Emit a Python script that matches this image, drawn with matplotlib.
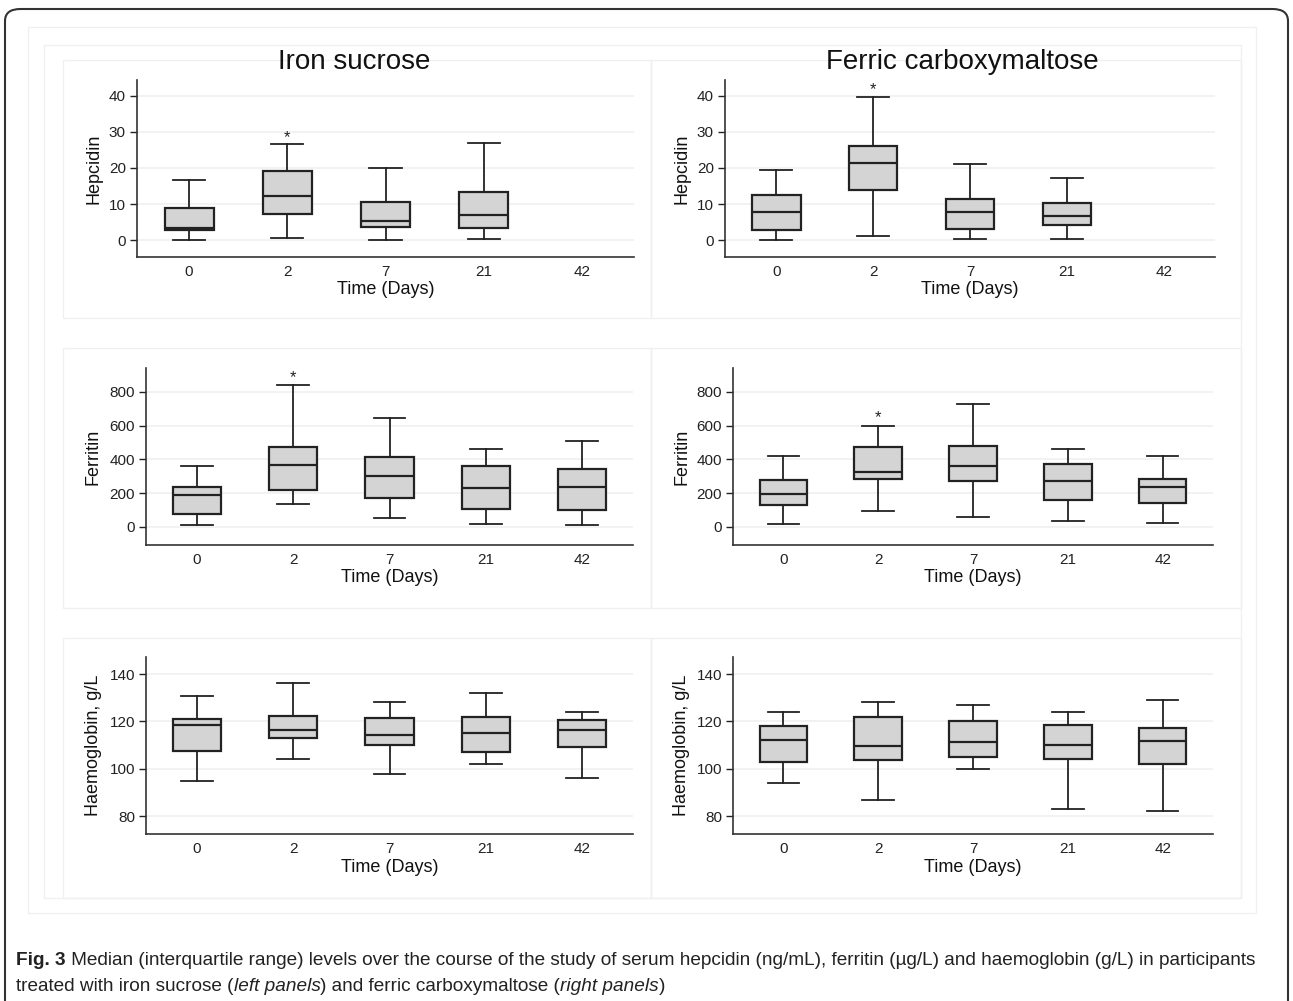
import matplotlib
matplotlib.use("Agg")
import matplotlib.pyplot as plt
from matplotlib.patches import Rectangle, FancyBboxPatch

plt.rcParams['font.family'] = ['Liberation Sans', 'DejaVu Sans']

W, H = 1293, 1001

days = ['0', '2', '7', '21', '42']

# each list: whisker low, Q1, median, Q3, whisker high (None = no data)
hep_is_low = [0.1, 0.5, 0.1, 0.2, None]
hep_is_q1 = [2.7, 7.2, 3.6, 3.4, None]
hep_is_med = [3.3, 12.2, 5.4, 6.9, None]
hep_is_q3 = [8.9, 19.2, 10.6, 13.4, None]
hep_is_high = [16.6, 26.6, 20.1, 26.9, None]

hep_fc_low = [0.1, 1.1, 0.4, 0.2, None]
hep_fc_q1 = [2.7, 13.8, 3.0, 4.2, None]
hep_fc_med = [7.7, 21.3, 7.9, 6.6, None]
hep_fc_q3 = [12.6, 26.2, 11.5, 10.4, None]
hep_fc_high = [19.5, 39.6, 21.2, 17.3, None]

fer_is_low = [10, 138, 53, 18, 10]
fer_is_q1 = [77, 219, 172, 105, 99]
fer_is_med = [192, 369, 304, 231, 235]
fer_is_q3 = [239, 474, 417, 360, 342]
fer_is_high = [363, 840, 648, 464, 508]

fer_fc_low = [16, 93, 59, 38, 22]
fer_fc_q1 = [132, 282, 273, 162, 142]
fer_fc_med = [198, 326, 363, 273, 239]
fer_fc_q3 = [279, 474, 482, 371, 286]
fer_fc_high = [423, 597, 729, 460, 419]

hb_is_low = [94.9, 103.9, 97.9, 101.8, 95.9]
hb_is_q1 = [107.5, 113.0, 110.0, 106.9, 109.2]
hb_is_med = [118.5, 116.3, 114.4, 114.9, 116.3]
hb_is_q3 = [121.0, 122.4, 121.5, 121.8, 120.6]
hb_is_high = [130.8, 136.1, 128.0, 132.0, 123.8]

hb_fc_low = [93.9, 86.9, 99.9, 83.1, 82.0]
hb_fc_q1 = [103.0, 103.8, 105.1, 103.9, 102.0]
hb_fc_med = [112.0, 109.7, 111.4, 109.9, 111.8]
hb_fc_q3 = [118.0, 121.8, 120.0, 118.3, 117.0]
hb_fc_high = [123.8, 128.0, 126.9, 123.8, 128.9]

# significance stars: (day index, value)
star_hep_is = (1, 28.4)
star_hep_fc = (1, 41.6)
star_fer_is = (1, 887)
star_fer_fc = (1, 650)

hep_ticks = [0, 10, 20, 30, 40]
fer_ticks = [0, 200, 400, 600, 800]
hb_ticks = [80, 100, 120, 140]


def px(l, t, r, b):
    return [l / W, 1 - b / H, (r - l) / W, (b - t) / H]


def make_stats(low, q1, med, q3, high):
    stats, pos = [], []
    for i in range(len(days)):
        if med[i] is None:
            continue
        stats.append(dict(whislo=low[i], q1=q1[i], med=med[i], q3=q3[i],
                          whishi=high[i], fliers=[]))
        pos.append(i + 1)
    return stats, pos


def panel(fig, rect, data, ylim, yticks, ylabel, ylab_x, star=None):
    ax = fig.add_axes(px(*rect))
    stats, pos = make_stats(*data)
    ax.bxp(stats, positions=pos, widths=0.5, patch_artist=True,
           showfliers=False,
           boxprops=dict(facecolor='#d4d4d4', edgecolor='#222222', linewidth=1.6),
           medianprops=dict(color='#222222', linewidth=1.6),
           whiskerprops=dict(color='#222222', linewidth=1.3),
           capprops=dict(color='#222222', linewidth=1.3), capwidths=0.33)
    ax.set_xlim(0.47, 5.53)
    ax.set_ylim(*ylim)
    ax.set_xticks(range(1, 6))
    ax.set_xticklabels(days)
    ax.set_yticks(yticks)
    ax.tick_params(axis='x', length=0, pad=6, labelsize=11, colors='#222222')
    ax.tick_params(axis='y', length=5, width=1, pad=3, labelsize=11,
                   colors='#222222')
    for s in ['top', 'right']:
        ax.spines[s].set_visible(False)
    for s in ['left', 'bottom']:
        ax.spines[s].set_color('#333333')
        ax.spines[s].set_linewidth(1.2)
    ax.yaxis.grid(True, color='#efefef', linewidth=1.1)
    ax.set_axisbelow(True)
    ax.patch.set_alpha(0)
    if star is not None:
        ax.text(star[0] + 1, star[1], '*', ha='center', va='center',
                fontsize=12, color='#222222')
    l, t, r, b = rect
    fig.text((l + r) / 2 / W, 1 - (b + 33) / H, 'Time (Days)', ha='center',
             va='center', fontsize=13, color='#111111')
    fig.text(ylab_x / W, 1 - (t + b) / 2 / H, ylabel, rotation=90,
             ha='center', va='center', fontsize=13, color='#111111')
    return ax


fig = plt.figure(figsize=(W / 100, H / 100), dpi=100)


def frame(l, t, r, b, color='#f0f0f0', lw=1.0):
    fig.patches.append(Rectangle((l / W, 1 - b / H), (r - l) / W, (b - t) / H,
                                 transform=fig.transFigure, fill=False,
                                 edgecolor=color, linewidth=lw))


fig.patches.append(FancyBboxPatch((5 / W, -0.02), 1283 / W, 1 - 9 / H + 0.02,
                                  boxstyle='round,pad=0,rounding_size=0.012',
                                  transform=fig.transFigure, fill=False,
                                  edgecolor='#333333', linewidth=1.5))
frame(28, 27, 1256, 913)
frame(44, 45, 1241, 898)
frame(63, 60, 651, 318)
frame(651, 60, 1241, 318)
frame(63, 348, 651, 608)
frame(651, 348, 1241, 608)
frame(63, 638, 651, 898)
frame(651, 638, 1241, 898)

panel(fig, (137, 80, 634, 257),
      (hep_is_low, hep_is_q1, hep_is_med, hep_is_q3, hep_is_high),
      (-4.7, 44.4), hep_ticks, 'Hepcidin', 94, star_hep_is)
panel(fig, (725, 80, 1215, 257),
      (hep_fc_low, hep_fc_q1, hep_fc_med, hep_fc_q3, hep_fc_high),
      (-4.7, 44.4), hep_ticks, 'Hepcidin', 682, star_hep_fc)
panel(fig, (146, 368, 633, 545),
      (fer_is_low, fer_is_q1, fer_is_med, fer_is_q3, fer_is_high),
      (-107, 942), fer_ticks, 'Ferritin', 93, star_fer_is)
panel(fig, (733, 368, 1213, 545),
      (fer_fc_low, fer_fc_q1, fer_fc_med, fer_fc_q3, fer_fc_high),
      (-107, 942), fer_ticks, 'Ferritin', 682, star_fer_fc)
panel(fig, (146, 657, 633, 834),
      (hb_is_low, hb_is_q1, hb_is_med, hb_is_q3, hb_is_high),
      (72.4, 147.2), hb_ticks, 'Haemoglobin, g/L', 94)
panel(fig, (733, 657, 1213, 834),
      (hb_fc_low, hb_fc_q1, hb_fc_med, hb_fc_q3, hb_fc_high),
      (72.4, 147.2), hb_ticks, 'Haemoglobin, g/L', 682)

fig.text(354 / W, 1 - 62 / H, 'Iron sucrose', ha='center', va='center',
         fontsize=20, color='#111111')
fig.text(962 / W, 1 - 62 / H, 'Ferric carboxymaltose', ha='center',
         va='center', fontsize=20, color='#111111')

# caption, built piece by piece so the bold and italic parts follow on
cap = dict(fontsize=13.7, color='#222222', va='bottom', ha='left')
line1 = [('Fig. 3', 'normal', 'bold'),
         (' Median (interquartile range) levels over the course of the study '
          'of serum hepcidin (ng/mL), ferritin (µg/L) and haemoglobin (g/L) '
          'in participants', 'normal', 'normal')]
line2 = [('treated with iron sucrose (', 'normal', 'normal'),
         ('left panels', 'italic', 'normal'),
         (') and ferric carboxymaltose (', 'normal', 'normal'),
         ('right panels', 'italic', 'normal'),
         (')', 'normal', 'normal')]
for y, parts in [(969, line1), (995, line2)]:
    prev = None
    for s, st, wt in parts:
        if prev is None:
            prev = fig.text(16 / W, 1 - y / H, s, style=st, fontweight=wt,
                            **cap)
        else:
            prev = fig.add_artist(plt.Annotation(s, xy=(1, 0), xycoords=prev,
                                                 style=st, fontweight=wt,
                                                 **cap))

fig.savefig('out.png', dpi=100)
